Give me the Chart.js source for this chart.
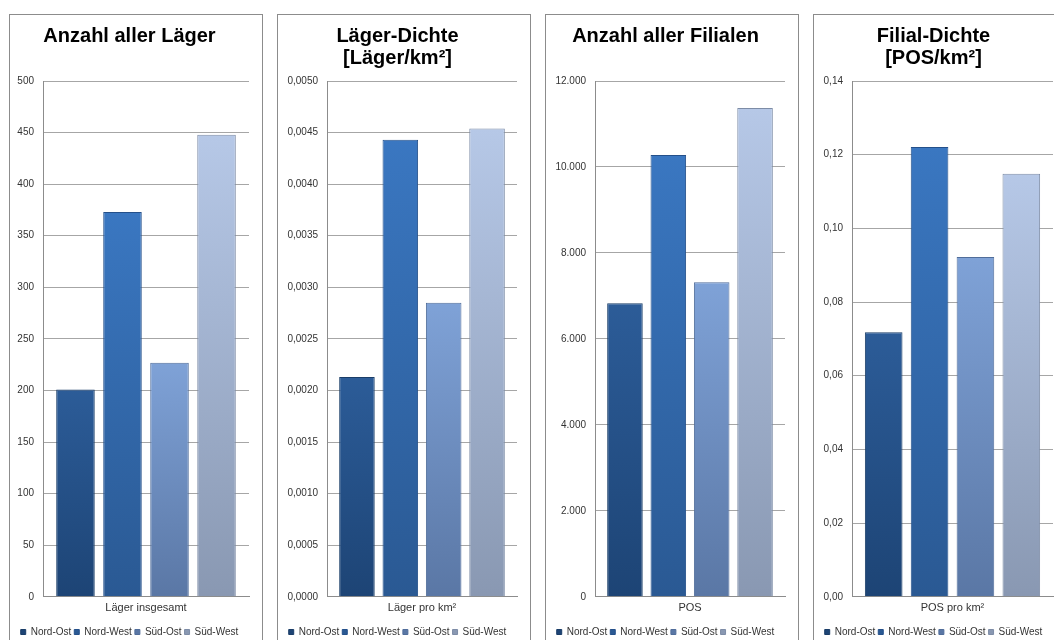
<!DOCTYPE html>
<html>
<head>
<meta charset="utf-8">
<script src="https://cdn.jsdelivr.net/npm/chart.js@4.4.0/dist/chart.umd.min.js"></script>
<style>
  html, body { margin: 0; padding: 0; background: #fff; overflow: hidden; }
  .panel { position: absolute; top: 14px; width: 252px; height: 660px; border: 1px solid #8c8c8c; background: #fff; }
  .panel canvas { display: block; }
</style>
</head>
<body>
<div class="panel" style="left:9px"><canvas id="c1" width="252" height="636"></canvas></div>
<div class="panel" style="left:277px"><canvas id="c2" width="252" height="636"></canvas></div>
<div class="panel" style="left:545px"><canvas id="c3" width="252" height="636"></canvas></div>
<div class="panel" style="left:813px"><canvas id="c4" width="252" height="636"></canvas></div>
<script>
const regions = ['Nord-Ost', 'Nord-West', 'Süd-Ost', 'Süd-West'];
const titles = [['Anzahl aller Läger'], ['Läger-Dichte', '[Läger/km²]'], ['Anzahl aller Filialen'], ['Filial-Dichte', '[POS/km²]']];
const categories = ['Läger insgesamt', 'Läger pro km²', 'POS', 'POS pro km²'];
const laegerAnzahl = [201, 373, 227, 448];
const laegerDichte = [0.00213, 0.00443, 0.00285, 0.00454];
const filialenAnzahl = [6830, 10280, 7320, 11370];
const filialDichte = [0.0718, 0.1221, 0.0922, 0.1148];
const yMax = [500, 0.005, 12000, 0.14];
const yStep = [50, 0.0005, 2000, 0.02];
const decimals = [0, 4, 0, 2];
const axisWidth = [33, 49, 49, 38];

// gradient colours (top, bottom) per region
const topCol = ['#2c5c98', '#3a77c1', '#7fa2d7', '#b6c8e7'];
const botCol = ['#1d4475', '#2a5993', '#5a77a5', '#8998b2'];
const edgeCol = ['#1a3d68', '#24508a', '#506d9a', '#7d8ca6'];

function fmt(v, d) {
  let s = v.toFixed(d);
  let parts = s.split('.');
  let ip = parts[0].replace(/\B(?=(\d{3})+(?!\d))/g, '.');
  return parts.length > 1 ? ip + ',' + parts[1] : ip;
}

function barFill(ctx) {
  const chart = ctx.chart;
  const i = ctx.datasetIndex;
  if (!chart.chartArea || !chart.scales.y) return botCol[i];
  const ys = chart.scales.y;
  const top = ys.getPixelForValue(ctx.raw || 0);
  const bottom = ys.getPixelForValue(0);
  if (!isFinite(top) || !isFinite(bottom) || bottom - top < 1) return botCol[i];
  const g = chart.ctx.createLinearGradient(0, top, 0, bottom);
  g.addColorStop(0, topCol[i]);
  g.addColorStop(1, botCol[i]);
  return g;
}

function makeChart(id, n, values) {
  const datasets = regions.map((r, i) => ({
    label: r,
    data: [values[i]],
    backgroundColor: barFill,
    borderColor: edgeCol[i],
    borderWidth: 1,
    categoryPercentage: 0.913,
    barPercentage: 0.82
  }));
  const lines = titles[n].length;
  return new Chart(document.getElementById(id), {
    type: 'bar',
    data: { labels: [categories[n]], datasets: datasets },
    options: {
      responsive: false,
      animation: false,
      layout: { padding: { left: 0, right: 13, top: 0, bottom: 4 } },
      plugins: {
        title: {
          display: true,
          text: titles[n],
          color: '#000',
          font: { family: 'Liberation Sans, Arial, sans-serif', size: 20, weight: 'bold', lineHeight: 1.1 },
          padding: { top: 10, bottom: lines === 2 ? 12 : 34 }
        },
        legend: {
          position: 'bottom',
          labels: {
            boxWidth: 5,
            boxHeight: 5,
            padding: 3,
            color: '#333',
            font: { family: 'Liberation Sans, Arial, sans-serif', size: 10 }
          }
        },
        tooltip: { enabled: false }
      },
      scales: {
        x: {
          afterFit: (s) => { s.height += 4; },
          grid: { display: false, drawTicks: false },
          border: { color: '#8c8c8c' },
          ticks: { color: '#333', padding: 5, font: { family: 'Liberation Sans, Arial, sans-serif', size: 11 } }
        },
        y: {
          min: 0,
          max: yMax[n],
          afterFit: (s) => { s.width = axisWidth[n]; },
          grid: { color: '#a6a6a6', drawTicks: false },
          border: { color: '#8c8c8c' },
          ticks: {
            stepSize: yStep[n],
            padding: 9,
            color: '#333',
            font: { family: 'Liberation Sans, Arial, sans-serif', size: 10 },
            callback: (v) => fmt(v, decimals[n])
          }
        }
      }
    }
  });
}

makeChart('c1', 0, laegerAnzahl);
makeChart('c2', 1, laegerDichte);
makeChart('c3', 2, filialenAnzahl);
makeChart('c4', 3, filialDichte);
</script>
</body>
</html>
